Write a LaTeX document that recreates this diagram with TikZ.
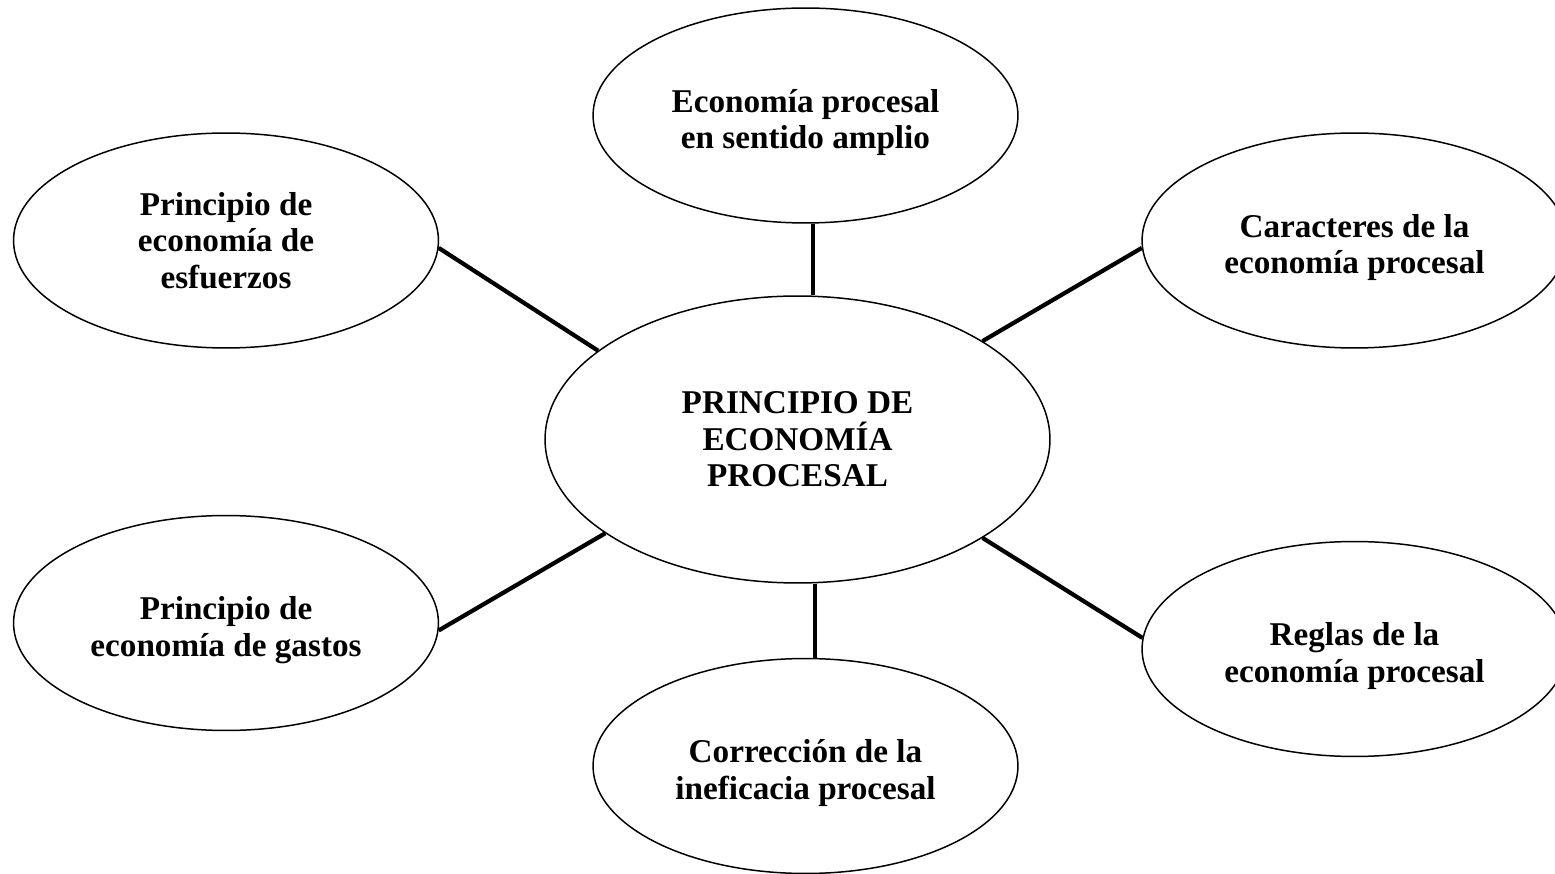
\documentclass[tikz,border=0pt]{standalone}
\usepackage{fontspec}
\setmainfont{Liberation Serif}
\usetikzlibrary{shapes.geometric}
\newcommand\tallrow{\rule{0pt}{0.74cm}}
\begin{document}
\begin{tikzpicture}[x=0.02cm,y=-0.02cm,
        bubble/.style={ellipse,draw,line width=0.85pt,inner sep=0pt,align=center,
            font=\fontsize{18.9}{20.8}\selectfont\bfseries,
            minimum width=8.5cm,minimum height=4.3cm},
        link/.style={line width=2.4pt}]
        \useasboundingbox (0,0) rectangle (1555,874);
        \node[bubble,minimum width=10.1cm,minimum height=5.74cm] (c) at (797.5,439.5) {PRINCIPIO DE\\ECONOMÍA\\PROCESAL};
        \node[bubble] (t) at (805.5,115.5) {\tallrow Economía procesal\\en sentido amplio};
        \node[bubble] (tl) at (226,240.5) {Principio de\\economía de\\esfuerzos};
        \node[bubble] (tr) at (1354.5,240.5) {\tallrow Caracteres de la\\economía procesal};
        \node[bubble] (bl) at (226,623) {\tallrow Principio de\\economía de gastos};
        \node[bubble] (br) at (1354.5,649) {\tallrow Reglas de la\\economía procesal};
        \node[bubble] (b) at (805.5,766) {\tallrow Corrección de la\\ineficacia procesal};
        \draw[link] (t.274.5) -- (t.274.5 |- c.north);
        \draw[link] (b.85.5) -- (b.85.5 |- c.south);
        \draw[link] (tl.358) -- (c.156);
        \draw[link] (tr.182) -- (c.28);
        \draw[link] (bl.358) -- (c.206);
        \draw[link] (br.177) -- (c.332);
        \end{tikzpicture}
\end{document}
